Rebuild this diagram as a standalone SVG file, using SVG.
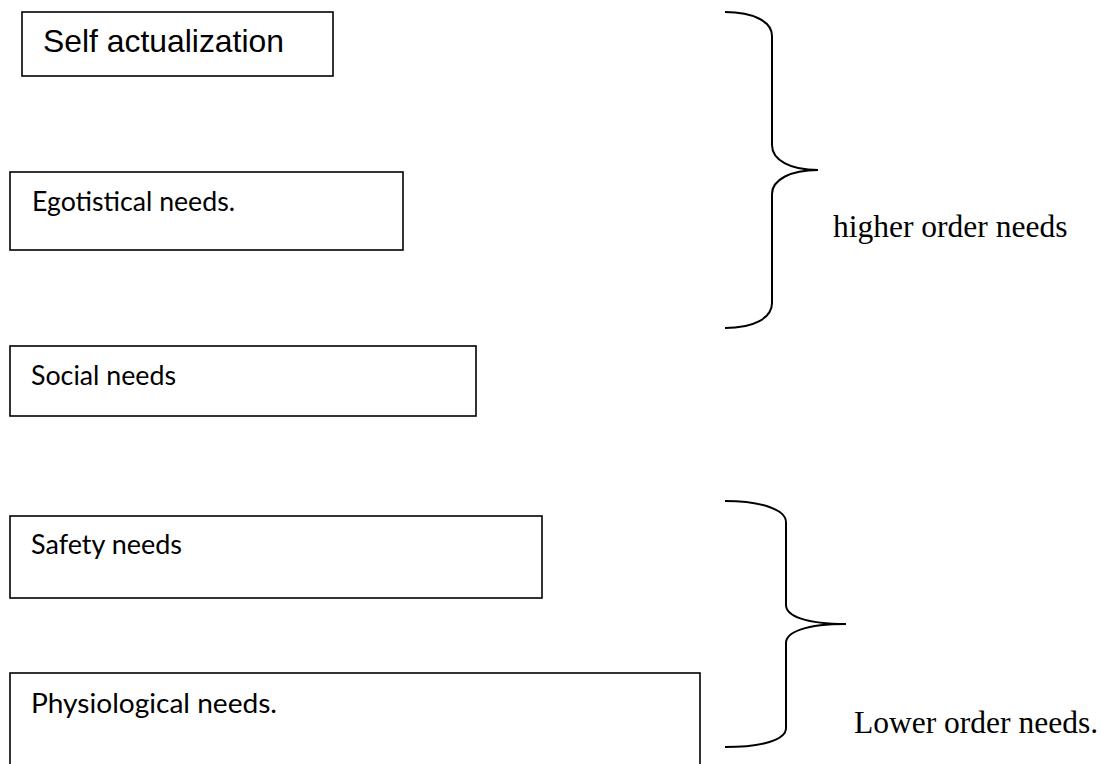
<svg xmlns="http://www.w3.org/2000/svg" width="1103" height="764" viewBox="0 0 1103 764">
<style>
.box{fill:#fff;stroke:#000;stroke-width:1.6}
.lbl{font-family:Lato,"Open Sans","Liberation Sans",sans-serif;font-size:27px;fill:#000}
.big{font-family:"Liberation Sans",Arial,sans-serif;font-size:32px;fill:#000}
.side{font-family:"Liberation Serif","Times New Roman",serif;font-size:31.5px;fill:#000}
.brace{fill:none;stroke:#000;stroke-width:2}
</style>
<rect width="1103" height="764" fill="#fff"/>
<g id="self-actualization">
<rect class="box" x="22" y="12" width="311" height="64"/>
<text class="big" x="43" y="52" textLength="241" lengthAdjust="spacingAndGlyphs">Self actualization</text>
</g>
<g id="egotistical-needs">
<rect class="box" x="10" y="172" width="393" height="78"/>
<text class="lbl" x="32" y="211" textLength="203" lengthAdjust="spacingAndGlyphs">Egotistical needs.</text>
</g>
<g id="social-needs">
<rect class="box" x="10" y="346" width="466" height="70"/>
<text class="lbl" x="31" y="385" textLength="145" lengthAdjust="spacingAndGlyphs">Social needs</text>
</g>
<g id="safety-needs">
<rect class="box" x="10" y="516" width="532" height="82"/>
<text class="lbl" x="31" y="554" textLength="151" lengthAdjust="spacingAndGlyphs">Safety needs</text>
</g>
<g id="physiological-needs">
<rect class="box" x="10" y="673" width="690" height="120"/>
<text class="lbl" x="31" y="713" textLength="246" lengthAdjust="spacingAndGlyphs">Physiological needs.</text>
</g>
<g id="connectors">
<path class="brace" d="M725,12 C754,12 772,22 772,36 L772,145 C772,160 790,170 818,170 C790,170 772,180 772,194 L772,303 C772,318 754,328 725,328"/>
<path class="brace" d="M725,501 C762,501 786,510 786,522 L786,605 C786,616 806,624 846,624 C806,624 786,632 786,643 L786,728 C786,740 762,747 725,747"/>
</g>
<g id="higher-order">
<text class="side" x="833" y="237">higher order needs</text>
</g>
<g id="lower-order">
<text class="side" x="854" y="733">Lower order needs.</text>
</g>
</svg>
